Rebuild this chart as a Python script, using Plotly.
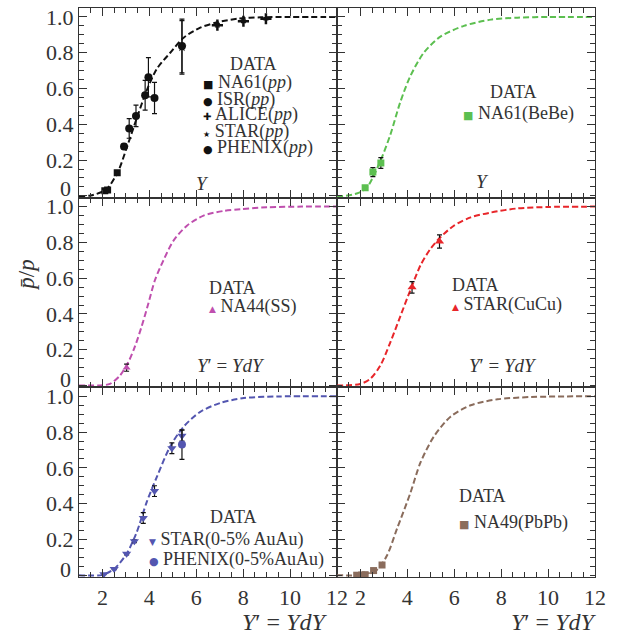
import plotly.graph_objects as go
from plotly.subplots import make_subplots

# ---------------- data ----------------
# fitted curves
pp_curve_x = [1.0, 1.5, 2.17, 2.67, 3.03, 3.46, 3.89, 4.32, 4.89, 5.46, 6.17, 6.89, 7.75, 8.75, 10.0, 12.0]
pp_curve_y = [0.0, 0.002, 0.037, 0.138, 0.267, 0.433, 0.59, 0.71, 0.80, 0.884, 0.94, 0.97, 0.99, 0.998, 1.0, 1.0]

bebe_curve_x = [1.0, 1.84, 2.27, 2.84, 3.27, 3.70, 4.13, 4.70, 5.41, 6.41, 7.56, 8.70, 10.0, 12.0]
bebe_curve_y = [-0.005, 0.013, 0.046, 0.193, 0.34, 0.525, 0.67, 0.80, 0.89, 0.95, 0.985, 0.996, 1.0, 1.0]

ss_curve_x = [1.0, 2.0, 2.32, 2.74, 3.1, 3.39, 3.67, 3.96, 4.24, 4.6, 5.03, 5.6, 6.31, 7.17, 7.89, 9.0, 10.5, 12.0]
ss_curve_y = [0.0, 0.002, 0.009, 0.055, 0.13, 0.22, 0.33, 0.46, 0.59, 0.70, 0.81, 0.893, 0.95, 0.976, 0.986, 0.996, 1.0, 1.0]

cucu_curve_x = [1.0, 1.99, 2.41, 2.84, 3.27, 3.7, 4.13, 4.56, 4.99, 5.41, 5.98, 6.7, 7.56, 8.7, 10.0, 12.0]
cucu_curve_y = [0.0, 0.009, 0.037, 0.11, 0.24, 0.387, 0.534, 0.672, 0.765, 0.829, 0.893, 0.94, 0.967, 0.99, 0.998, 1.0]

auau_curve_x = [1.0, 2.0, 2.53, 3.03, 3.46, 3.89, 4.32, 4.89, 5.46, 6.17, 7.03, 8.03, 9.5, 12.0]
auau_curve_y = [0.0, 0.002, 0.039, 0.12, 0.24, 0.41, 0.55, 0.72, 0.83, 0.913, 0.963, 0.99, 0.999, 1.0]

pbpb_curve_x = [1.0, 2.0, 2.7, 3.13, 3.56, 4.13, 4.56, 5.13, 5.84, 6.7, 7.84, 9.27, 12.0]
pbpb_curve_y = [0.0, 0.002, 0.03, 0.11, 0.26, 0.46, 0.63, 0.775, 0.886, 0.95, 0.983, 0.996, 1.0]

# data points
na61_pp_x = [2.10, 2.22, 2.63]
na61_pp_y = [0.028, 0.033, 0.129]
na61_pp_e = [0.005, 0.005, 0.01]

isr_pp_x = [2.92, 3.14, 3.43, 3.82, 3.96, 4.22]
isr_pp_y = [0.276, 0.377, 0.447, 0.562, 0.663, 0.547]
isr_pp_e = [0.015, 0.055, 0.06, 0.083, 0.11, 0.087]

alice_pp_x = [6.9, 8.01, 8.97]
alice_pp_y = [0.954, 0.976, 0.99]
alice_pp_e = [0.01, 0.008, 0.006]

star_pp_x = [5.39]
star_pp_y = [0.83]
star_pp_e = [0.15]

phenix_pp_x = [5.39]
phenix_pp_y = [0.838]
phenix_pp_e = [0.15]

na61_bebe_x = [2.20, 2.53, 2.87]
na61_bebe_y = [0.046, 0.133, 0.184]
na61_bebe_e = [0.01, 0.025, 0.03]

na44_ss_x = [3.03]
na44_ss_y = [0.10]
na44_ss_e = [0.02]

star_cucu_x = [4.2, 5.37]
star_cucu_y = [0.549, 0.805]
star_cucu_e = [0.032, 0.037]

star_auau_x = [2.06, 2.5, 3.03, 3.36, 3.74, 4.22, 4.96, 5.39]
star_auau_y = [0.006, 0.035, 0.12, 0.19, 0.32, 0.47, 0.71, 0.78]
star_auau_e = [0.003, 0.004, 0.006, 0.008, 0.03, 0.03, 0.03, 0.03]

phenix_auau_x = [5.39]
phenix_auau_y = [0.73]
phenix_auau_e = [0.083]

na49_pbpb_x = [1.84, 2.05, 2.2, 2.56, 2.92]
na49_pbpb_y = [0.0, 0.001, 0.003, 0.026, 0.057]
na49_pbpb_e = [0.002, 0.002, 0.002, 0.003, 0.004]

y_tickvals = [0, 0.2, 0.4, 0.6, 0.8, 1.0]
y_ticktext = ["", "0.2", "0.4", "0.6", "0.8", "1.0"]   # "0" is written slightly raised, as in the source
x_tickvals = [2, 4, 6, 8, 10, 12]

# ---------------- style ----------------
FONT = "Liberation Serif"
TXT = "#333333"
BLACK = "#111111"
GREEN = "#5cbf50"
MAGENTA = "#bf4fae"
RED = "#e8262a"
BLUE = "#5356b0"
BROWN = "#8a6c5c"
TICKFONT = 22

fig = make_subplots(rows=3, cols=2, shared_xaxes=False, shared_yaxes=False,
                    horizontal_spacing=0, vertical_spacing=0)


def curve(x, y, color, r, c):
    fig.add_trace(go.Scatter(x=x, y=y, mode="lines",
                             line=dict(color=color, width=2, dash="6px,3px", shape="spline", smoothing=0.8),
                             hoverinfo="skip", showlegend=False), row=r, col=c)


def pts(x, y, e, color, symbol, size, r, c):
    fig.add_trace(go.Scatter(x=x, y=y, mode="markers",
                             marker=dict(color=color, symbol=symbol, size=size, line=dict(width=0)),
                             error_y=dict(type="data", array=e, color=BLACK, thickness=1.2, width=2.5),
                             showlegend=False), row=r, col=c)


curve(pp_curve_x, pp_curve_y, BLACK, 1, 1)
pts(na61_pp_x, na61_pp_y, na61_pp_e, BLACK, "square", 7, 1, 1)
pts(isr_pp_x, isr_pp_y, isr_pp_e, BLACK, "circle", 8, 1, 1)
pts(alice_pp_x, alice_pp_y, alice_pp_e, BLACK, "cross-thin", 8, 1, 1)
fig.data[-1].marker.line = dict(width=2.5, color=BLACK)
pts(star_pp_x, star_pp_y, star_pp_e, BLACK, "star", 7, 1, 1)
pts(phenix_pp_x, phenix_pp_y, phenix_pp_e, BLACK, "circle", 8, 1, 1)

curve(bebe_curve_x, bebe_curve_y, GREEN, 1, 2)
pts(na61_bebe_x, na61_bebe_y, na61_bebe_e, GREEN, "square", 7, 1, 2)

curve(ss_curve_x, ss_curve_y, MAGENTA, 2, 1)
pts(na44_ss_x, na44_ss_y, na44_ss_e, MAGENTA, "triangle-up", 7, 2, 1)

curve(cucu_curve_x, cucu_curve_y, RED, 2, 2)
pts(star_cucu_x, star_cucu_y, star_cucu_e, RED, "triangle-up", 8, 2, 2)

curve(auau_curve_x, auau_curve_y, BLUE, 3, 1)
pts(star_auau_x, star_auau_y, star_auau_e, BLUE, "triangle-down", 8, 3, 1)
pts(phenix_auau_x, phenix_auau_y, phenix_auau_e, BLUE, "circle", 8, 3, 1)

curve(pbpb_curve_x, pbpb_curve_y, BROWN, 3, 2)
pts(na49_pbpb_x, na49_pbpb_y, na49_pbpb_e, BROWN, "square", 7, 3, 2)

# axes
for r in range(1, 4):
    for c in range(1, 3):
        fig.update_xaxes(range=[1, 12], tickvals=x_tickvals, showticklabels=(r == 3),
                         ticks="inside", ticklen=8, tickwidth=1, tickcolor=TXT,
                         minor=dict(ticks="inside", dtick=0.5, tick0=0, ticklen=5, tickwidth=1, tickcolor=TXT),
                         showline=True, linecolor=TXT, linewidth=1.2, mirror="allticks",
                         showgrid=False, zeroline=False,
                         tickfont=dict(family=FONT, size=TICKFONT, color=TXT), row=r, col=c)
        fig.update_yaxes(range=[-0.01, 1.05], tickvals=y_tickvals, ticktext=y_ticktext,
                         showticklabels=(c == 1),
                         ticks="inside", ticklen=8, tickwidth=1, tickcolor=TXT,
                         minor=dict(ticks="inside", dtick=0.05, tick0=0, ticklen=5, tickwidth=1, tickcolor=TXT),
                         showline=True, linecolor=TXT, linewidth=1.2, mirror="allticks",
                         showgrid=False, zeroline=False,
                         tickfont=dict(family=FONT, size=TICKFONT, color=TXT), row=r, col=c)

ann = []


def txt(axis_n, x, y, text, size=18, xanchor="center", color=TXT):
    xr = "x" if axis_n == 1 else f"x{axis_n}"
    yr = "y" if axis_n == 1 else f"y{axis_n}"
    ann.append(dict(xref=xr, yref=yr, x=x, y=y, text=text, showarrow=False, xanchor=xanchor, yanchor="middle",
                    font=dict(family=FONT, size=size, color=color)))


def sym(ch, color, size=12):
    return f'<span style="font-size:{size}px;color:{color};font-family:DejaVu Sans">{ch}</span> '


# raised "0" labels on the left column
for yname, yy in [("y", 0.04), ("y3", 0.035), ("y5", 0.03)]:
    ann.append(dict(xref="paper", yref=yname, x=-0.011, y=yy, text="0", showarrow=False,
                    xanchor="right", yanchor="middle", font=dict(family=FONT, size=TICKFONT, color=TXT)))

# panel 1 legend
txt(1, 8.44, 0.735, "DATA")
legend1 = [
    (sym("■", BLACK, 11), "NA61(<i>pp</i>)"),
    (sym("●", BLACK, 11), "ISR(<i>pp</i>)"),
    (sym("✚", BLACK, 10), "ALICE(<i>pp</i>)"),
    (sym("★", BLACK, 8), "STAR(<i>pp</i>)"),
    (sym("●", BLACK, 11), "PHENIX(<i>pp</i>)"),
]
legend1_y = [0.635, 0.541, 0.453, 0.359, 0.271]
for (s, t), yy in zip(legend1, legend1_y):
    txt(1, 6.2, yy, s + t, xanchor="left")
txt(1, 6.25, 0.07, "<i>Y</i>", size=19)

# panel 2
txt(2, 8.53, 0.58, "DATA")
txt(2, 6.3, 0.459, sym("■", GREEN, 11) + "NA61(BeBe)", xanchor="left")
txt(2, 7.2, 0.08, "<i>Y</i>", size=19)

# panel 3
txt(3, 7.53, 0.544, "DATA")
txt(3, 6.45, 0.439, sym("▲", MAGENTA, 9) + "NA44(SS)", xanchor="left")
txt(3, 7.47, 0.11, "<i>Y</i>′ = <i>YdY</i>", size=19)

# panel 4
txt(4, 6.92, 0.562, "DATA")
txt(4, 5.82, 0.451, sym("▲", RED, 9) + "STAR(CuCu)", xanchor="left")
txt(4, 8.07, 0.11, "<i>Y</i>′ = <i>YdY</i>", size=19)

# panel 5
txt(5, 7.6, 0.324, "DATA")
txt(5, 3.92, 0.199, sym("▼", BLUE, 9) + "STAR(0-5% AuAu)", xanchor="left")
txt(5, 3.92, 0.088, sym("●", BLUE, 11) + "PHENIX(0-5%AuAu)", xanchor="left")

# panel 6
txt(6, 7.2, 0.444, "DATA")
txt(6, 6.12, 0.293, sym("■", BROWN, 11) + "NA49(PbPb)", xanchor="left")

# x-axis titles
ann.append(dict(xref="x5", yref="paper", x=9.77, y=-0.079, text="<i>Y</i>′ = <i>YdY</i>", showarrow=False,
                xanchor="center", yanchor="middle", font=dict(family=FONT, size=24, color=TXT)))
ann.append(dict(xref="x6", yref="paper", x=10.26, y=-0.079, text="<i>Y</i>′ = <i>YdY</i>", showarrow=False,
                xanchor="center", yanchor="middle", font=dict(family=FONT, size=24, color=TXT)))
# y-axis title
ann.append(dict(xref="paper", yref="paper", x=-0.101, y=0.531, text="<i>p̄</i>/<i>p</i>", showarrow=False,
                textangle=-90, xanchor="center", yanchor="middle", font=dict(family=FONT, size=23, color=TXT)))

fig.update_layout(width=632, height=641, margin=dict(l=79, r=37, t=5, b=64),
                  plot_bgcolor="white", paper_bgcolor="white", showlegend=False,
                  annotations=ann)

fig.write_html("out.html", config={"displayModeBar": False},
               post_script="document.body.style.margin='0px';document.body.style.padding='0px';"
                           "document.documentElement.style.overflow='hidden';")
